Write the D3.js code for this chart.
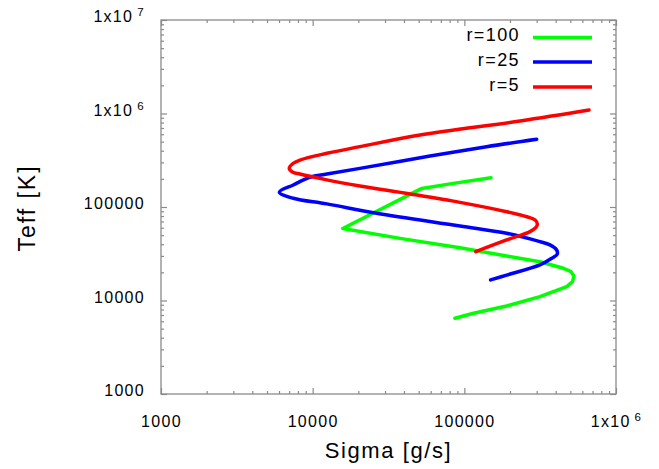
<!DOCTYPE html>
<html>
<head>
<meta charset="utf-8">
<script src="https://cdn.jsdelivr.net/npm/d3@7"></script>
<style>
  body { margin: 0; background: #fff; }
  text { font-family: "Liberation Sans", Arial, Helvetica, sans-serif; fill: #000; }
</style>
</head>
<body>
<script>
// sigma [g/s] vs Teff [K]
var r100Sigma = [150000, 84600, 52400, 15800, 37700, 93600, 190000, 315000, 450000, 502000, 528000, 517000, 473000, 315000, 190000, 115000, 86700];
var r100Teff  = [206000, 179000, 158000, 58900, 46200, 36700, 29900, 26000, 22100, 20500, 18300, 15900, 14100, 11000, 8730, 7300, 6460];

var r25Sigma = [300000, 140000, 59400, 20500, 12400, 9600, 7450, 6030, 7450, 12400, 26400, 93600, 190000, 315000, 367000, 406000, 410000, 377000, 315000, 190000, 149000];
var r25Teff  = [530000, 442000, 351000, 259000, 225000, 208000, 172000, 144000, 124000, 108000, 85700, 62700, 52400, 42600, 39300, 34700, 31400, 28300, 24000, 18700, 16600];

var r5Sigma = [664000, 233000, 51000, 20500, 12400, 8240, 7410, 7010, 7360, 8240, 12400, 20500, 43900, 93600, 190000, 258000, 293000, 303000, 297000, 271000, 190000, 119000];
var r5Teff  = [1090000, 832000, 589000, 442000, 375000, 318000, 292000, 259000, 237000, 225000, 195000, 168000, 138000, 112000, 89000, 78700, 72600, 65800, 60700, 54500, 44400, 33300];

var seriesNames = ["r=100", "r=25", "r=5"];
var seriesColors = ["#00ff00", "#0000ff", "#ff0000"];

var xTicks = [1000, 10000, 100000, 1000000];
var yTicks = [1000, 10000, 100000, 1000000, 10000000];

var chart = (function() {
    var w = 659, h = 469;
    var pl = 161, pr = 616, pt = 20, pb = 394;

    var svg = d3.select("body")
                .append("svg")
                .attr("width", w)
                .attr("height", h);

    var xScale = d3.scaleLog()
                    .domain([1000, 1000000])
                    .range([pl, pr]);

    var yScale = d3.scaleLog()
                    .domain([1000, 10000000])
                    .range([pb, pt]);

    // minor ticks 2..9 in each decade
    var minor = function(lo, hi) {
        var out = [];
        for (var d = lo; d < hi; d *= 10)
            for (var k = 2; k <= 9; k++) out.push(d * k);
        return out;
    };
    var xMinor = minor(1000, 1000000);
    var yMinor = minor(1000, 10000000);

    var gray = "#8a8a8a";

    var supFormat = function(sel) {
        sel.selectAll(".tick text").each(function(d) {
            if (d >= 1000000) {
                var t = d3.select(this);
                t.text(null);
                t.append("tspan").text("1x10");
                t.append("tspan")
                    .attr("dx", 4)
                    .attr("dy", "-0.55em")
                    .attr("font-size", "0.72em")
                    .text(Math.round(Math.log10(d)));
            }
        });
    };

    var styleAxis = function(g) {
        g.select(".domain").remove();
        g.selectAll(".tick line").attr("stroke", gray).attr("stroke-width", 1.2);
        g.selectAll(".tick text")
            .attr("font-size", 16)
            .attr("letter-spacing", 1.3)
            .style("font-family", "'Liberation Sans', Arial, sans-serif")
            .attr("fill", "#000");
    };

    // major ticks with labels
    svg.append("g")
        .attr("transform", "translate(0," + pb + ")")
        .call(d3.axisBottom(xScale).tickValues(xTicks).tickSizeInner(-6).tickSizeOuter(0)
            .tickPadding(22).tickFormat(d3.format("d")))
        .call(styleAxis)
        .call(supFormat);

    var yAxisG = svg.append("g")
        .attr("transform", "translate(" + pl + ",0)")
        .call(d3.axisLeft(yScale).tickValues(yTicks).tickSizeInner(-6).tickSizeOuter(0)
            .tickPadding(16).tickFormat(d3.format("d")))
        .call(styleAxis)
        .call(supFormat);
    yAxisG.selectAll(".tick text").attr("dy", "0.12em");

    // mirrored major ticks
    svg.append("g")
        .attr("transform", "translate(0," + pt + ")")
        .call(d3.axisTop(xScale).tickValues(xTicks).tickSizeInner(-6).tickSizeOuter(0).tickFormat(""))
        .call(styleAxis);

    svg.append("g")
        .attr("transform", "translate(" + pr + ",0)")
        .call(d3.axisRight(yScale).tickValues(yTicks).tickSizeInner(-6).tickSizeOuter(0).tickFormat(""))
        .call(styleAxis);

    // minor ticks on all four sides
    svg.append("g").attr("transform", "translate(0," + pb + ")")
        .call(d3.axisBottom(xScale).tickValues(xMinor).tickSizeInner(-3).tickSizeOuter(0).tickFormat(""))
        .call(styleAxis);
    svg.append("g").attr("transform", "translate(0," + pt + ")")
        .call(d3.axisTop(xScale).tickValues(xMinor).tickSizeInner(-3).tickSizeOuter(0).tickFormat(""))
        .call(styleAxis);
    svg.append("g").attr("transform", "translate(" + pl + ",0)")
        .call(d3.axisLeft(yScale).tickValues(yMinor).tickSizeInner(-3).tickSizeOuter(0).tickFormat(""))
        .call(styleAxis);
    svg.append("g").attr("transform", "translate(" + pr + ",0)")
        .call(d3.axisRight(yScale).tickValues(yMinor).tickSizeInner(-3).tickSizeOuter(0).tickFormat(""))
        .call(styleAxis);

    // frame
    svg.append("rect")
        .attr("x", pl)
        .attr("y", pt)
        .attr("width", pr - pl)
        .attr("height", pb - pt)
        .attr("fill", "none")
        .attr("stroke", gray)
        .attr("stroke-width", 1.3);

    // curves: r=100 has sharp corners, the other two bend smoothly
    var series = [
        {sigma: r100Sigma, teff: r100Teff, curve: d3.curveLinear},
        {sigma: r25Sigma, teff: r25Teff, curve: d3.curveCatmullRom.alpha(0.5)},
        {sigma: r5Sigma, teff: r5Teff, curve: d3.curveCatmullRom.alpha(0.5)}
    ];

    svg.append("g")
        .selectAll("path")
        .data(series)
        .enter()
        .append("path")
        .attr("d", s => d3.line()
                .x(d => xScale(d[0]))
                .y(d => yScale(d[1]))
                .curve(s.curve)(s.sigma.map((v, i) => [v, s.teff[i]])))
        .attr("fill", "none")
        .attr("stroke", (s, i) => seriesColors[i])
        .attr("stroke-width", 3.5)
        .attr("stroke-linejoin", "round")
        .attr("stroke-linecap", "round");

    // legend
    var legend = svg.append("g");
    var legendY = [37.5, 62, 87];

    legend.selectAll("text")
        .data(seriesNames)
        .enter()
        .append("text")
        .attr("x", 520)
        .attr("y", (d, i) => legendY[i] + 3.5)
        .attr("text-anchor", "end")
        .attr("font-size", 18)
        .attr("letter-spacing", 1.4)
        .text(d => d);

    legend.selectAll("line")
        .data(seriesNames)
        .enter()
        .append("line")
        .attr("x1", 533)
        .attr("x2", 592)
        .attr("y1", (d, i) => legendY[i])
        .attr("y2", (d, i) => legendY[i])
        .attr("stroke", (d, i) => seriesColors[i])
        .attr("stroke-width", 3.5);

    // axis titles
    svg.append("text")
        .attr("x", (pl + pr) / 2)
        .attr("y", 458)
        .attr("text-anchor", "middle")
        .attr("font-size", 22)
        .attr("letter-spacing", 1.6)
        .text("Sigma [g/s]");

    svg.append("text")
        .attr("transform", "translate(35," + ((pt + pb) / 2 + 1) + ") rotate(-90)")
        .attr("text-anchor", "middle")
        .attr("font-size", 23)
        .attr("letter-spacing", 2)
        .text("Teff [K]");
})();
</script>
</body>
</html>
